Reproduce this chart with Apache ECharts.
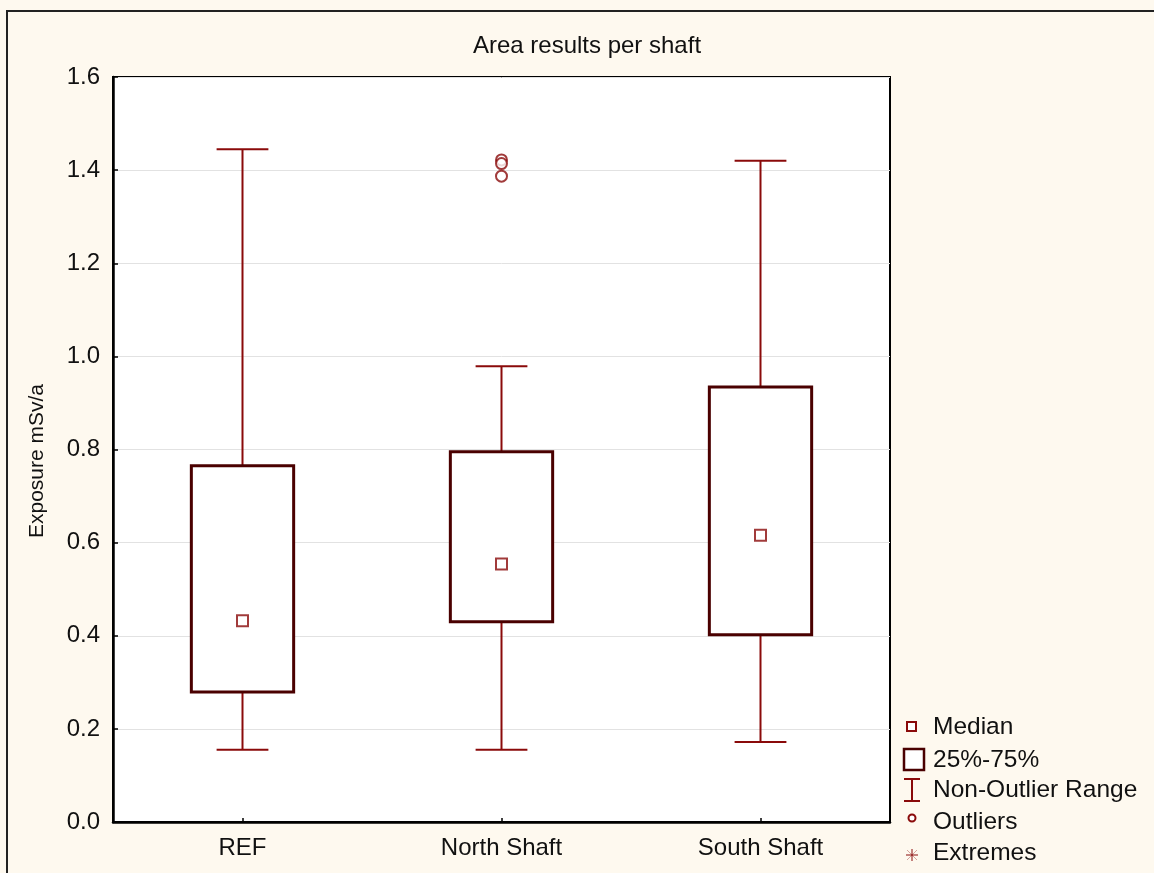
<!DOCTYPE html>
<html>
<head>
<meta charset="utf-8">
<script src="https://cdn.jsdelivr.net/npm/echarts@6/dist/echarts.min.js"></script>
<style>
html,body{margin:0;padding:0;background:#fef9ef;}
#c{width:1154px;height:873px;}
</style>
</head>
<body>
<div id="c"></div>
<script>
const categories = ['REF', 'North Shaft', 'South Shaft'];
// [min (non-outlier), Q1, median, Q3, max (non-outlier)]
const whiskerMin = [0.155, 0.155, 0.172];
const q1 = [0.279, 0.430, 0.402];
const median = [0.432, 0.554, 0.616];
const q3 = [0.765, 0.795, 0.934];
const whiskerMax = [1.445, 0.979, 1.420];
const outliers = [[1, 1.422], [1, 1.414], [1, 1.387]];
const yTicks = [0, 0.2, 0.4, 0.6, 0.8, 1.0, 1.2, 1.4, 1.6];

const boxData = categories.map((c, i) => [i, whiskerMin[i], q1[i], median[i], q3[i], whiskerMax[i]]);
const medianData = categories.map((c, i) => [i, median[i]]);

const FONT = 'Liberation Sans, Arial, sans-serif';
const WHISK = '#8a0a0a';
const BOX = '#4a0000';

const chart = echarts.init(document.getElementById('c'), null, {renderer: 'canvas'});

function renderBox(params, api) {
  const x = api.value(0);
  const pMin = api.coord([x, api.value(1)]);
  const pQ1 = api.coord([x, api.value(2)]);
  const pQ3 = api.coord([x, api.value(4)]);
  const pMax = api.coord([x, api.value(5)]);
  const band = api.size([1, 0])[0];
  const bw = band * 0.395;
  const cw = band * 0.2;
  const cx = pQ1[0];
  const wStyle = {stroke: WHISK, lineWidth: 2, fill: null};
  return {
    type: 'group',
    children: [
      {type: 'line', shape: {x1: cx, y1: pMax[1], x2: cx, y2: pQ3[1]}, style: wStyle},
      {type: 'line', shape: {x1: cx, y1: pQ1[1], x2: cx, y2: pMin[1]}, style: wStyle},
      {type: 'line', shape: {x1: cx - cw / 2, y1: pMax[1], x2: cx + cw / 2, y2: pMax[1]}, style: wStyle},
      {type: 'line', shape: {x1: cx - cw / 2, y1: pMin[1], x2: cx + cw / 2, y2: pMin[1]}, style: wStyle},
      {type: 'rect', shape: {x: cx - bw / 2, y: pQ3[1], width: bw, height: pQ1[1] - pQ3[1]},
        style: {fill: '#ffffff', stroke: BOX, lineWidth: 3}}
    ]
  };
}

const legendItems = ['Median', '25%-75%', 'Non-Outlier Range', 'Outliers', 'Extremes'];
const legendY = [727, 760, 790, 822, 853];
const lg = [];
legendItems.forEach((t, i) => {
  lg.push({type: 'text', x: 933, y: legendY[i],
    style: {text: t, font: '24.5px ' + FONT, fill: '#111', textVerticalAlign: 'middle'}});
});
// legend icons
lg.push({type: 'rect', shape: {x: 907, y: 722, width: 9, height: 9}, style: {fill: '#fff', stroke: WHISK, lineWidth: 2}});
lg.push({type: 'rect', shape: {x: 904, y: 749, width: 20, height: 21}, style: {fill: '#fff', stroke: BOX, lineWidth: 2.5}});
lg.push({type: 'line', shape: {x1: 904, y1: 779, x2: 920, y2: 779}, style: {stroke: WHISK, lineWidth: 2}});
lg.push({type: 'line', shape: {x1: 912, y1: 779, x2: 912, y2: 801}, style: {stroke: WHISK, lineWidth: 2}});
lg.push({type: 'line', shape: {x1: 904, y1: 801, x2: 920, y2: 801}, style: {stroke: WHISK, lineWidth: 2}});
lg.push({type: 'circle', shape: {cx: 912, cy: 818, r: 3.5}, style: {fill: '#fff', stroke: WHISK, lineWidth: 2}});
// extremes asterisk
lg.push({type: 'line', shape: {x1: 912, y1: 849, x2: 912, y2: 861}, style: {stroke: WHISK, lineWidth: 1}});
lg.push({type: 'line', shape: {x1: 906, y1: 855, x2: 918, y2: 855}, style: {stroke: WHISK, lineWidth: 1}});
lg.push({type: 'line', shape: {x1: 907, y1: 850, x2: 917, y2: 860}, style: {stroke: WHISK, lineWidth: 0.6, opacity: 0.6}});
lg.push({type: 'line', shape: {x1: 917, y1: 850, x2: 907, y2: 860}, style: {stroke: WHISK, lineWidth: 0.6, opacity: 0.6}});

const option = {
  backgroundColor: '#fef9ef',
  animation: false,
  textStyle: {fontFamily: FONT},
  grid: {left: 113, top: 77, right: 264, bottom: 51, show: true, backgroundColor: '#ffffff',
    borderColor: '#000', borderWidth: 2},
  xAxis: {
    type: 'category', data: categories, boundaryGap: true,
    axisLine: {show: true, lineStyle: {color: '#000', width: 2.5}},
    axisTick: {show: true, inside: true, alignWithLabel: true, length: 4, lineStyle: {color: '#000', width: 1.5}},
    axisLabel: {fontSize: 24, color: '#111', margin: 14, fontFamily: FONT},
    splitLine: {show: false}
  },
  yAxis: {
    type: 'value', min: 0, max: 1.6, interval: 0.2,
    axisLine: {show: true, lineStyle: {color: '#000', width: 2.5}},
    axisTick: {show: true, inside: true, length: 5, lineStyle: {color: '#000', width: 1.5}},
    axisLabel: {fontSize: 24, color: '#111', margin: 13, fontFamily: FONT,
      formatter: v => v.toFixed(1)},
    splitLine: {show: true, lineStyle: {color: '#e2e2e2', width: 1}}
  },
  graphic: [
    {type: 'rect', shape: {x: 7, y: 11, width: 1300, height: 1000}, silent: true, z: -10,
      style: {fill: null, stroke: '#222', lineWidth: 2}},
    {type: 'text', x: 587, y: 46, style: {text: 'Area results per shaft', font: '24px ' + FONT, fill: '#111',
      textAlign: 'center', textVerticalAlign: 'middle'}},
    {type: 'text', x: 37, y: 461, rotation: Math.PI / 2,
      style: {text: 'Exposure mSv/a', font: '21px ' + FONT, fill: '#111', textAlign: 'center', textVerticalAlign: 'middle'}},
    ...lg
  ],
  series: [
    {type: 'custom', renderItem: renderBox, data: boxData, encode: {x: 0, y: [1, 2, 3, 4, 5]}, z: 2},
    {type: 'scatter', data: medianData, symbol: 'rect', symbolSize: 11, z: 3,
      itemStyle: {color: '#ffffff', borderColor: WHISK, borderWidth: 2}},
    {type: 'scatter', data: outliers, symbol: 'circle', symbolSize: 11, z: 3,
      itemStyle: {color: '#ffffff', borderColor: WHISK, borderWidth: 2}}
  ]
};
chart.setOption(option);
</script>
</body>
</html>
